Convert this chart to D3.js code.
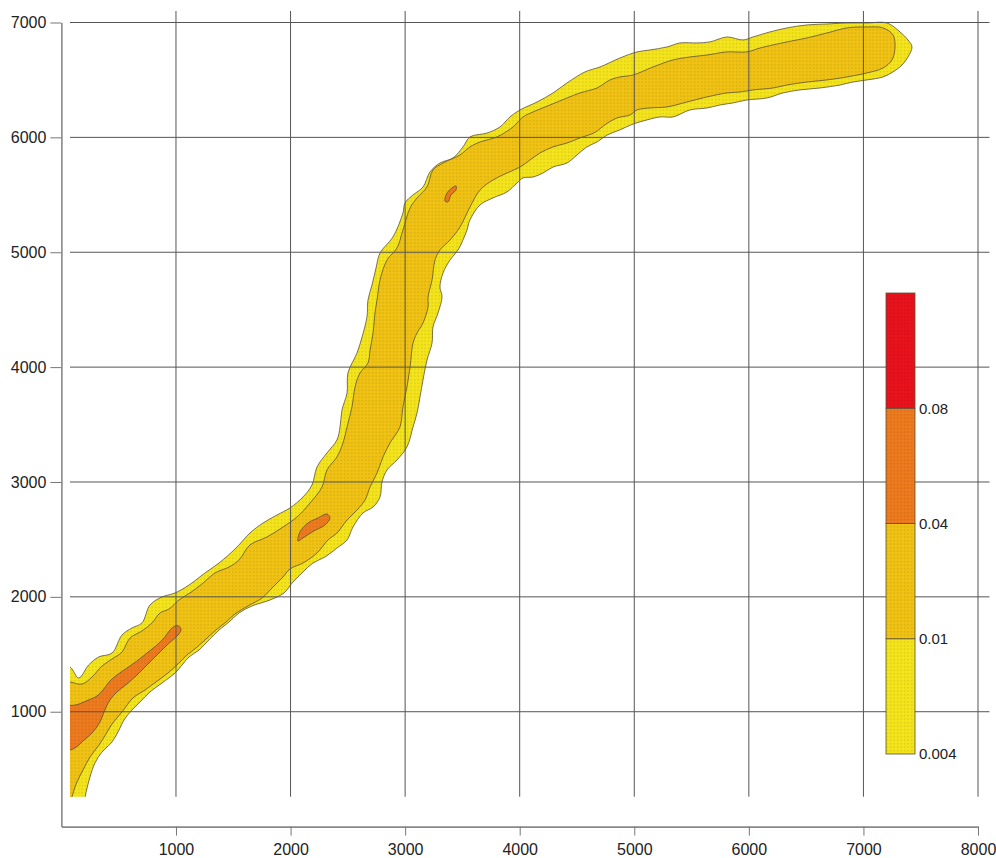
<!DOCTYPE html>
<html><head><meta charset="utf-8">
<script src="https://cdn.jsdelivr.net/npm/d3@7"></script>
<style>html,body{margin:0;padding:0;background:#fff;} svg{display:block;font-family:"Liberation Sans",Arial,sans-serif;}</style>
</head><body><svg id="chart" width="996" height="858"></svg>
<script>
// ---- data ----
const xTicks = [1000,2000,3000,4000,5000,6000,7000,8000];
const yTicks = [1000,2000,3000,4000,5000,6000,7000];
const levelLabels = ["0.004","0.01","0.04","0.08"];
const bandColors = ["#f4e41c","#f0c214","#ee7a1e","#e8121c"];

// contour at 0.004 (outer)
const outerContour = [[-150,1480],[75,1390],[151,1294],[238,1407],[326,1477],[442,1511],[529,1668],[616,1729],[703,1773],[773,1929],[878,1999],[992,2034],[1114,2103],[1253,2208],[1376,2295],[1524,2425],[1646,2556],[1760,2643],[1882,2713],[1995,2774],[2109,2870],[2187,2974],[2231,3131],[2318,3253],[2405,3366],[2432,3479],[2449,3627],[2493,3775],[2501,3949],[2580,4123],[2624,4262],[2667,4437],[2676,4585],[2711,4715],[2746,4863],[2781,4994],[2894,5133],[2981,5342],[2999,5429],[3069,5499],[3156,5568],[3217,5699],[3304,5777],[3418,5821],[3505,5917],[3566,6004],[3715,6038],[3828,6091],[3915,6178],[4003,6239],[4151,6308],[4291,6387],[4413,6474],[4570,6570],[4701,6613],[4875,6691],[5024,6744],[5137,6761],[5286,6787],[5399,6822],[5547,6822],[5661,6831],[5809,6874],[5949,6848],[6036,6874],[6185,6918],[6333,6953],[6508,6979],[6682,6987],[6857,6996],[7031,6996],[7206,6996],[7319,6918],[7389,6848],[7424,6787],[7389,6700],[7337,6630],[7258,6570],[7171,6526],[7031,6500],[6909,6482],[6796,6456],[6621,6430],[6446,6413],[6298,6387],[6158,6343],[5984,6326],[5862,6300],[5748,6282],[5635,6256],[5486,6239],[5338,6178],[5225,6178],[5111,6152],[4989,6116],[4875,6065],[4762,6020],[4675,5960],[4587,5917],[4500,5847],[4413,5777],[4291,5742],[4203,5690],[4116,5655],[4029,5647],[3976,5603],[3889,5525],[3767,5473],[3654,5412],[3566,5281],[3540,5194],[3505,5107],[3462,5020],[3392,4933],[3331,4820],[3304,4698],[3322,4611],[3287,4471],[3243,4349],[3235,4210],[3191,4062],[3156,3888],[3130,3740],[3104,3601],[3069,3479],[3016,3305],[2929,3192],[2842,3105],[2798,3000],[2781,2870],[2720,2782],[2632,2730],[2545,2608],[2493,2495],[2405,2425],[2301,2347],[2196,2295],[2109,2217],[2021,2129],[1943,2034],[1821,1973],[1664,1921],[1550,1860],[1463,1781],[1376,1712],[1288,1625],[1201,1537],[1114,1477],[1053,1407],[992,1337],[878,1250],[773,1172],[686,1085],[616,1015],[546,928],[503,841],[442,737],[354,649],[293,554],[250,432],[206,249],[190,60],[-150,60]];

// contour at 0.01 (inner)
const innerContour = [[-150,1300],[75,1259],[180,1241],[267,1302],[354,1398],[442,1459],[529,1520],[599,1642],[703,1703],[791,1773],[861,1860],[939,1894],[1026,1973],[1122,2034],[1227,2112],[1341,2208],[1463,2260],[1550,2321],[1646,2452],[1794,2521],[1934,2608],[2056,2695],[2170,2817],[2275,2957],[2318,3105],[2405,3218],[2458,3340],[2493,3479],[2536,3653],[2563,3827],[2606,3949],[2676,4036],[2694,4149],[2720,4297],[2737,4471],[2755,4585],[2781,4759],[2842,4933],[2929,5037],[2981,5194],[3043,5385],[3104,5473],[3191,5568],[3243,5716],[3331,5777],[3479,5847],[3566,5917],[3654,5960],[3802,6004],[3942,6091],[4029,6178],[4116,6221],[4264,6282],[4413,6343],[4526,6387],[4675,6430],[4788,6500],[4875,6526],[4989,6543],[5164,6613],[5338,6674],[5486,6700],[5635,6717],[5809,6744],[5984,6744],[6097,6778],[6211,6805],[6333,6831],[6508,6866],[6682,6909],[6857,6953],[7031,6961],[7171,6953],[7258,6892],[7276,6787],[7249,6674],[7171,6604],[7031,6561],[6857,6526],[6682,6500],[6508,6482],[6333,6456],[6211,6430],[6036,6413],[5923,6395],[5809,6387],[5635,6352],[5460,6308],[5286,6265],[5137,6256],[5024,6239],[4963,6195],[4849,6169],[4745,6110],[4660,6045],[4526,5995],[4413,5951],[4291,5917],[4177,5864],[4090,5803],[4003,5742],[3889,5690],[3767,5629],[3654,5542],[3566,5394],[3479,5220],[3392,5107],[3304,5020],[3261,4933],[3235,4759],[3200,4611],[3200,4524],[3156,4384],[3104,4297],[3069,4210],[3043,4001],[3016,3827],[2981,3653],[2955,3479],[2868,3340],[2807,3218],[2755,3078],[2694,2957],[2650,2843],[2580,2756],[2493,2669],[2405,2556],[2327,2495],[2231,2382],[2109,2295],[1995,2243],[1934,2173],[1847,2086],[1751,1990],[1629,1921],[1515,1851],[1437,1781],[1349,1712],[1262,1633],[1175,1555],[1096,1494],[1018,1416],[930,1337],[826,1259],[730,1189],[625,1120],[529,998],[442,893],[389,806],[328,710],[250,606],[189,493],[136,388],[93,258],[70,80],[-150,80]];

// contours at 0.04 (peaks)
const peakLowerLeft = [[-150,1090],[75,1055],[136,1062],[223,1097],[311,1137],[363,1189],[424,1268],[485,1320],[573,1381],[660,1442],[747,1511],[834,1581],[904,1651],[948,1712],[992,1746],[1027,1746],[1044,1712],[1018,1668],[922,1581],[834,1494],[747,1407],[660,1320],[573,1242],[485,1172],[424,1102],[372,998],[337,911],[276,824],[189,745],[119,684],[75,667],[-150,640]];
const peakMiddle = [[2065,2486],[2082,2565],[2152,2643],[2240,2687],[2318,2721],[2344,2687],[2301,2626],[2205,2574],[2109,2513]];
const peakUpper = [[3348,5446],[3366,5516],[3409,5560],[3444,5577],[3444,5542],[3400,5499],[3374,5438]];

// ---- chart ----
const svg = d3.select("#chart");
const x = d3.scaleLinear().domain([0,8000]).range([61.4,978]);
const y = d3.scaleLinear().domain([0,7000]).range([826.6,22.5]);
const viewX = [75,8100], viewY = [260,7100];
const lineCol = "#5e5234";

const defs = svg.append("defs");
defs.append("clipPath").attr("id","plotClip").append("rect")
  .attr("x",x(viewX[0])).attr("y",y(viewY[1]))
  .attr("width",x(viewX[1])-x(viewX[0])).attr("height",y(viewY[0])-y(viewY[1]));

bandColors.forEach((c,i)=>{
  const p = defs.append("pattern").attr("id","pat"+i).attr("patternUnits","userSpaceOnUse")
    .attr("width",3.5).attr("height",3.5);
  p.append("rect").attr("width",3.5).attr("height",3.5).attr("fill",c);
  p.append("rect").attr("x",1.2).attr("y",1.2).attr("width",1).attr("height",1)
    .attr("fill",d3.color(c).darker(1.4)).attr("opacity",0.6);
});

const line = d3.line().x(d=>x(d[0])).y(d=>y(d[1])).curve(d3.curveCatmullRomClosed.alpha(0.5));
const plot = svg.append("g").attr("clip-path","url(#plotClip)");
const layers = [
  {data:outerContour, band:0},
  {data:innerContour, band:1},
  {data:peakLowerLeft, band:2},
  {data:peakMiddle, band:2},
  {data:peakUpper, band:2}
];
plot.selectAll("path.level").data(layers).join("path").attr("class","level")
  .attr("d",d=>line(d.data))
  .attr("fill",d=>"url(#pat"+d.band+")")
  .attr("stroke",lineCol).attr("stroke-width",0.8);

// grid
const grid = svg.append("g");
grid.selectAll("line.v").data(xTicks).join("line").attr("class","v")
  .attr("x1",d=>x(d)).attr("x2",d=>x(d)).attr("y1",y(viewY[0])).attr("y2",y(viewY[1]))
  .attr("stroke","#555").attr("stroke-width",1);
grid.selectAll("line.h").data(yTicks).join("line").attr("class","h")
  .attr("y1",d=>y(d)).attr("y2",d=>y(d)).attr("x1",x(viewX[0])).attr("x2",x(viewX[1]))
  .attr("stroke","#555").attr("stroke-width",1);

// axes
const yAxis = svg.append("g").attr("transform",`translate(${x(0)},0)`)
  .call(d3.axisLeft(y).tickValues(yTicks).tickSize(11).tickSizeOuter(0).tickPadding(4).tickFormat(d3.format("d")));
const xAxis = svg.append("g").attr("transform",`translate(0,${y(0)})`)
  .call(d3.axisBottom(x).tickValues(xTicks).tickSize(9).tickSizeOuter(0).tickPadding(8).tickFormat(d3.format("d")));
[yAxis,xAxis].forEach(a=>{
  a.select(".domain").attr("stroke","#888").attr("stroke-width",1.6);
  a.selectAll(".tick line").attr("stroke","#777");
  a.selectAll(".tick text").attr("fill","#222").style("font-size","16px").style("font-family","'Liberation Sans',Arial,sans-serif");
});

// colour bar
const cb = d3.scaleLinear().domain([0,4]).range([754,293]);
const cbX = 886, cbW = 29;
svg.append("g").selectAll("rect").data(bandColors).join("rect")
  .attr("x",cbX).attr("width",cbW)
  .attr("y",(d,i)=>cb(i+1)).attr("height",(d,i)=>cb(i)-cb(i+1))
  .attr("fill",(d,i)=>"url(#pat"+i+")").attr("stroke",lineCol).attr("stroke-width",0.8);
svg.append("g").selectAll("text").data(levelLabels).join("text")
  .attr("x",cbX+cbW+4).attr("y",(d,i)=>cb(i)).attr("dy","0.35em")
  .attr("fill","#222").style("font-size","15px").text(d=>d);
</script></body></html>
